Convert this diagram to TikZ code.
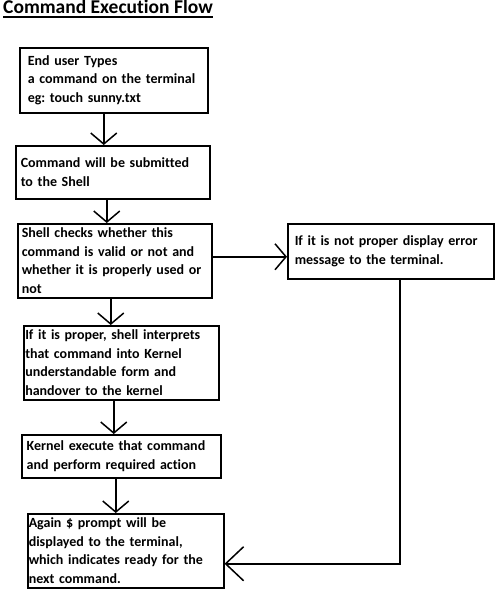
\documentclass[tikz,border=0pt]{standalone}
\usepackage{fontspec}
\setmainfont{Carlito}[Ligatures=CommonOff]
\usetikzlibrary{arrows.meta}
\frenchspacing

\begin{document}
\begin{tikzpicture}[x=1pt, y=-1pt,
        stepbox/.style = {draw, black, line width=1.5pt, anchor=north west, align=left, inner ysep=0pt,
            font=\bfseries\fontsize{14}{18.5}\selectfont},
        flow/.style = {black, line width=1.5pt, -{Straight Barb[length=11pt, width=26pt, line width=1.5pt]}}]
        \useasboundingbox (0,0) rectangle (503,600);

        \node[anchor=base west, inner sep=0pt, font=\bfseries\fontsize{19.5}{22}\selectfont] (title) at (3,13.5) {Command Execution Flow};
        \draw[line width=1.8pt] ([yshift=-2.8pt]title.south west) -- ([yshift=-2.8pt]title.south east);

        \node[stepbox, text width=172pt, inner xsep=8pt, minimum height=65pt] (type) at (19,47) {End user Types\\a command on the terminal\\eg: touch sunny.txt};
        \node[stepbox, text width=184pt, inner xsep=5pt, minimum height=53pt] (submit) at (15,145) {Command will be submitted\\to the Shell};
        \node[stepbox, text width=186pt, inner xsep=4pt, minimum height=74pt] (check) at (17,223) {Shell checks whether this\\command is valid or not and\\whether it is properly used or\\not};
        \node[stepbox, text width=192pt, inner xsep=7pt, minimum height=55pt] (error) at (287,223) {If it is not proper display error\\message to the terminal.};
        \node[stepbox, text width=192pt, inner xsep=1.5pt, minimum height=74pt] (interpret) at (23,325) {If it is proper, shell interprets\\that command into Kernel\\understandable form and\\handover to the kernel};
        \node[stepbox, text width=189pt, inner xsep=5pt, minimum height=43pt] (execute) at (21,434) {Kernel execute that command\\and perform required action};
        \node[stepbox, text width=194pt, inner xsep=1pt, minimum height=74pt] (prompt) at (27,513) {Again \$ prompt will be\\displayed to the terminal,\\which indicates ready for the\\next command.};

        \draw[flow] ([xshift=-10pt]type.south) -- ([xshift=-10pt]type.south |- submit.north);
        \draw[flow] ([xshift=-6pt]submit.south) -- ([xshift=-6pt]submit.south |- check.north);
        \draw[flow] ([yshift=4pt]check.east) -- ([yshift=4pt]check.east -| error.west);
        \draw[flow] ([xshift=-4pt]check.south) -- ([xshift=-4pt]check.south |- interpret.north);
        \draw[flow] ([xshift=-7.5pt]interpret.south) -- ([xshift=-7.5pt]interpret.south |- execute.north);
        \draw[flow] ([xshift=-5.5pt]execute.south) -- ([xshift=-5.5pt]execute.south |- prompt.north);
        \draw[flow, -{Straight Barb[length=18pt, width=34pt, line width=1.5pt]}] ([xshift=9pt]error.south) |- ([yshift=-13pt]prompt.east);
    \end{tikzpicture}
\end{document}
